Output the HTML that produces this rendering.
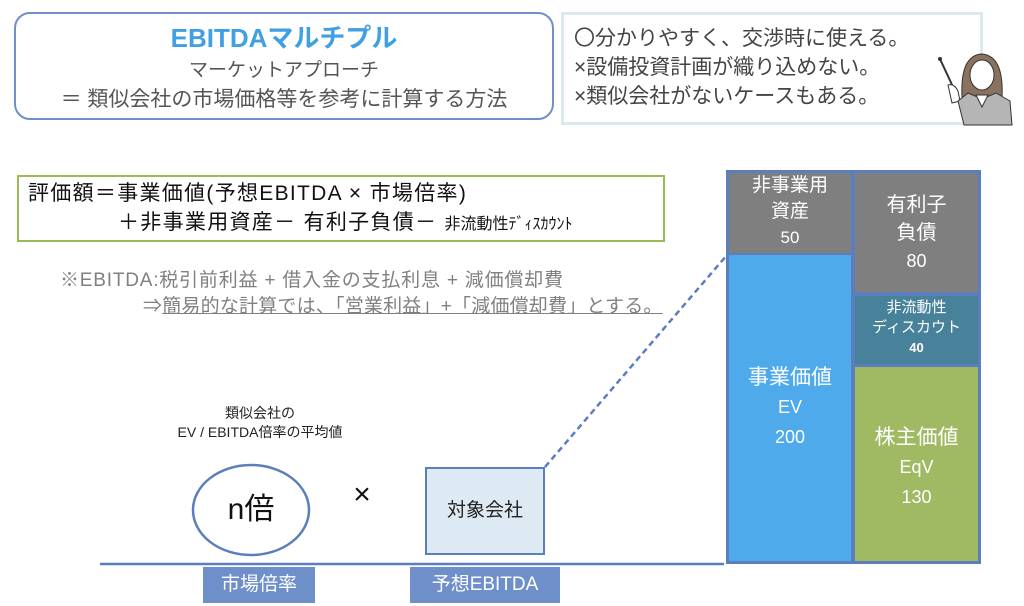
<!DOCTYPE html>
<html><head><meta charset="utf-8"><style>
body{margin:0;width:1024px;height:606px;background:#fff;position:relative;overflow:hidden;font-family:"Liberation Sans","Noto Sans CJK JP",sans-serif}
div{position:absolute;box-sizing:border-box}
.c{text-align:center}
.w{color:#fff}
</style></head><body>
<div style="left:14px;top:12px;width:540px;height:108px;border:2.5px solid #6f8fc6;border-radius:16px"></div>
<div class="c" style="left:14px;top:22px;width:540px;font-size:26px;font-weight:bold;color:#3fa0e4;line-height:32px">EBITDAマルチプル</div>
<div class="c" style="left:14px;top:58px;width:540px;font-size:19px;color:#555;line-height:26px">マーケットアプローチ</div>
<div class="c" style="left:14px;top:86px;width:540px;font-size:21px;color:#555;line-height:28px">＝ 類似会社の市場価格等を参考に計算する方法</div>

<div style="left:561px;top:12px;width:422px;height:113px;border:3px solid #dbe9ef"></div>
<div style="left:574px;top:24px;font-size:21px;color:#444;line-height:29px;white-space:nowrap">〇分かりやすく、交渉時に使える。<br>×設備投資計画が織り込めない。<br>×類似会社がないケースもある。</div>
<svg style="position:absolute;left:930px;top:45px" width="94" height="82">
<line x1="10" y1="14" x2="24" y2="44" stroke="#333" stroke-width="2"/>
<circle cx="10" cy="14" r="2" fill="#333"/>
<path d="M18 40 Q24 38 28 46 L30 56 L22 58 Z" fill="#fff" stroke="#333"/>
<path d="M32 52 Q30 10 52 9 Q74 11 72 52 Z" fill="#8a7260" stroke="#333"/>
<ellipse cx="52" cy="30" rx="12" ry="15" fill="#fff" stroke="#333"/>
<path d="M28 56 L38 48 L52 54 L66 48 L80 56 L82 80 L34 80 Z" fill="#b5b5b5" stroke="#333"/>
<path d="M46 50 L52 62 L58 50 Z" fill="#fff" stroke="#333"/>
</svg>

<div style="left:17px;top:175px;width:648px;height:67px;border:2.5px solid #9bbb59"></div>
<div style="left:28px;top:180px;font-size:21px;color:#111;line-height:28px;white-space:nowrap;letter-spacing:1.3px">評価額＝事業価値(予想EBITDA × 市場倍率)</div>
<div style="left:118px;top:209px;font-size:21px;color:#111;line-height:28px;white-space:nowrap;letter-spacing:1.3px">＋非事業用資産－ 有利子負債－ <span style="font-size:16px;letter-spacing:0">非流動性ﾃﾞｨｽｶｳﾝﾄ</span></div>
<div style="left:60px;top:268px;font-size:19px;color:#808080;line-height:26px;white-space:nowrap;letter-spacing:0.8px">※EBITDA:税引前利益 + 借入金の支払利息 + 減価償却費</div>
<div style="left:143px;top:294px;font-size:19px;color:#808080;line-height:26px;white-space:nowrap;letter-spacing:0.2px">⇒<u>簡易的な計算では、「営業利益」+「減価償却費」とする。</u></div>

<div class="c" style="left:150px;top:404px;width:220px;font-size:14px;color:#222;line-height:19px">類似会社の<br>EV / EBITDA倍率の平均値</div>
<svg style="position:absolute;left:0;top:0" width="1024" height="606">
<ellipse cx="251" cy="510" rx="58" ry="45" fill="#fff" stroke="#5b7fbd" stroke-width="2.5"/>
<line x1="100" y1="564" x2="724" y2="564" stroke="#5b7fbd" stroke-width="2.5"/>
<line x1="545" y1="467" x2="727" y2="255" stroke="#5b7fbd" stroke-width="2.5" stroke-dasharray="6,4"/>
</svg>
<div class="c" style="left:193px;top:490px;width:116px;font-size:30px;color:#111;line-height:40px">n倍</div>
<div class="c" style="left:340px;top:478px;width:44px;font-size:30px;color:#111">×</div>
<div class="c" style="left:425px;top:467px;width:120px;height:88px;background:#dde9f3;border:2px solid #5b7fbd;font-size:19px;line-height:84px;color:#222">対象会社</div>
<div class="c w" style="left:203px;top:567px;width:112px;height:36px;background:#6e8fc9;font-size:19px;line-height:36px">市場倍率</div>
<div class="c w" style="left:410px;top:567px;width:150px;height:36px;background:#6e8fc9;font-size:19px;line-height:36px">予想EBITDA</div>

<div style="left:726px;top:170px;width:255px;height:394px;background:#5b7fbd"></div>
<div class="c w" style="left:729px;top:173px;width:122px;height:80px;background:#7f7f7f;font-size:19px;line-height:26px;padding-top:0">非事業用<br>資産<br><span style="font-size:17px">50</span></div>
<div class="c w" style="left:729px;top:255px;width:122px;height:306px;background:#4eaaea;font-size:21px;line-height:29px;padding-top:108px">事業価値<br><span style="font-size:18px">EV<br>200</span></div>
<div class="c w" style="left:855px;top:173px;width:123px;height:119px;background:#7f7f7f;font-size:20px;line-height:28px;padding-top:18px">有利子<br>負債<br><span style="font-size:18px">80</span></div>
<div class="c w" style="left:855px;top:296px;width:123px;height:68px;background:#47819a;font-size:15px;line-height:20px;padding-top:2px">非流動性<br>ディスカウト<br><b style="font-size:13px">40</b></div>
<div class="c w" style="left:855px;top:367px;width:123px;height:194px;background:#9fba63;font-size:21px;line-height:29px;padding-top:56px">株主価値<br><span style="font-size:18px">EqV<br>130</span></div>
</body></html>
